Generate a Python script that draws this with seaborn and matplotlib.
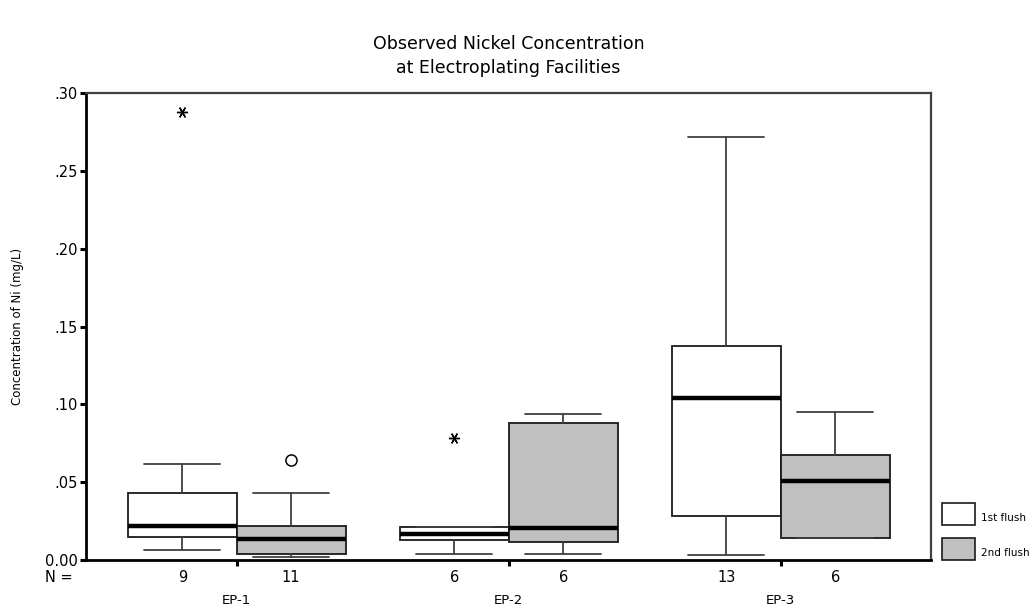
import matplotlib
matplotlib.use("Agg")
import matplotlib.pyplot as plt
from matplotlib.patches import Rectangle
import seaborn as sns
import numpy as np

# ---- data ----
groups = ["EP-1", "EP-2", "EP-3"]
flushes = ["1st flush", "2nd flush"]
counts_1st = [9, 6, 13]
counts_2nd = [11, 6, 6]

whislo_1st = [0.0066, 0.0039, 0.0030]
q1_1st     = [0.0150, 0.0127, 0.0285]
med_1st    = [0.0218, 0.0165, 0.1040]
q3_1st     = [0.0430, 0.0214, 0.1377]
whishi_1st = [0.0617, 0.0214, 0.2720]

whislo_2nd = [0.0021, 0.0040, 0.0141]
q1_2nd     = [0.0040, 0.0116, 0.0141]
med_2nd    = [0.0137, 0.0208, 0.0510]
q3_2nd     = [0.0218, 0.0880, 0.0673]
whishi_2nd = [0.0430, 0.0940, 0.0951]

# outliers: (group index, flush index, value)
extreme_group = [0, 1]
extreme_flush = [0, 0]
extreme_value = [0.288, 0.0786]
mild_group = [0]
mild_flush = [1]
mild_value = [0.0643]

yticks = [0.0, 0.05, 0.10, 0.15, 0.20, 0.25, 0.30]
ytick_labels = ["0.00", ".05", ".10", ".15", ".20", ".25", ".30"]

sns.set_theme(style="white")
plt.rcParams["font.family"] = ["DejaVu Sans"]
plt.rcParams["text.color"] = "black"
plt.rcParams["axes.labelcolor"] = "black"
plt.rcParams["xtick.color"] = "black"
plt.rcParams["ytick.color"] = "black"

W, H = 1032, 611
fig = plt.figure(figsize=(W / 100, H / 100), dpi=100)
ax = fig.add_axes([86.3 / W, 1 - 560 / H, (930.7 - 86.3) / W, (560 - 93.3) / H])

offset = 0.2
bw = 0.4
fills = ["white", "#c0c0c0"]

def make_stats(lo, q1, med, q3, hi):
    return [dict(whislo=a, q1=b, med=c, q3=d, whishi=e, fliers=[])
            for a, b, c, d, e in zip(lo, q1, med, q3, hi)]

sets = [
    make_stats(whislo_1st, q1_1st, med_1st, q3_1st, whishi_1st),
    make_stats(whislo_2nd, q1_2nd, med_2nd, q3_2nd, whishi_2nd),
]
for k, stats in enumerate(sets):
    pos = np.arange(len(groups)) + (k - 0.5) * 2 * offset
    ax.bxp(stats, positions=pos, widths=bw, patch_artist=True, showfliers=False,
           manage_ticks=False, capwidths=0.28,
           boxprops=dict(facecolor=fills[k], edgecolor="#1a1a1a", linewidth=1.3),
           medianprops=dict(color="black", linewidth=3.2),
           whiskerprops=dict(color="#404040", linewidth=1.3),
           capprops=dict(color="#404040", linewidth=1.3))

ex_x = [g + (f - 0.5) * 2 * offset for g, f in zip(extreme_group, extreme_flush)]
ax.plot(ex_x, extreme_value, linestyle="none", marker=(6, 2, 90), markersize=8,
        color="black", markeredgewidth=1.0, zorder=5)
mi_x = [g + (f - 0.5) * 2 * offset for g, f in zip(mild_group, mild_flush)]
ax.plot(mi_x, mild_value, linestyle="none", marker="o", markersize=8,
        markerfacecolor="none", markeredgecolor="black", markeredgewidth=1.1, zorder=5)

ax.set_xlim(-0.553, 2.551)
ax.set_ylim(0, 0.30)
ax.set_yticks(yticks)
ax.set_yticklabels(ytick_labels, fontsize=10.5)
ax.set_xticks(np.arange(len(groups)))
ax.set_xticklabels([])
ax.tick_params(axis="y", which="major", left=True, length=4, width=2.2, pad=2, colors="black")
ax.tick_params(axis="x", which="major", bottom=True, length=4, width=2.2, colors="black")
ax.set_ylabel("Concentration of Ni (mg/L)", fontsize=8.5)
ax.yaxis.set_label_coords(-0.074, 0.5)

for side in ["left", "bottom"]:
    ax.spines[side].set_color("black")
    ax.spines[side].set_linewidth(2.0)
for side in ["top", "right"]:
    ax.spines[side].set_color("#404040")
    ax.spines[side].set_linewidth(1.6)

# N counts and group labels below axis
fig.text(45 / W, 1 - 577 / H, "N =", fontsize=10.5, ha="left", va="center")
for i, g in enumerate(groups):
    for k, cnt in enumerate([counts_1st[i], counts_2nd[i]]):
        xd = i + (k - 0.5) * 2 * offset
        xf = fig.transFigure.inverted().transform(ax.transData.transform((xd, 0)))[0]
        fig.text(xf, 1 - 577 / H, str(cnt), fontsize=10.5, ha="center", va="center")
    xf = fig.transFigure.inverted().transform(ax.transData.transform((i, 0)))[0]
    fig.text(xf, 1 - 600 / H, g, fontsize=9.5, ha="center", va="center")

# title
fig.text(508.5 / W, 1 - 44 / H, "Observed Nickel Concentration", fontsize=12.5, ha="center", va="center")
fig.text(508.5 / W, 1 - 68 / H, "at Electroplating Facilities", fontsize=12.5, ha="center", va="center")

# legend
for k, (lab, y0, y1) in enumerate([(flushes[0], 503, 525), (flushes[1], 538, 560)]):
    fig.add_artist(Rectangle((941.5 / W, 1 - y1 / H), 33.5 / W, (y1 - y0) / H,
                             transform=fig.transFigure, facecolor=fills[k],
                             edgecolor="#1a1a1a", linewidth=1.2))
    fig.text(981 / W, 1 - (y1 - 2) / H, lab, fontsize=7.5, ha="left", va="bottom")

fig.savefig("out.png", dpi=100)
